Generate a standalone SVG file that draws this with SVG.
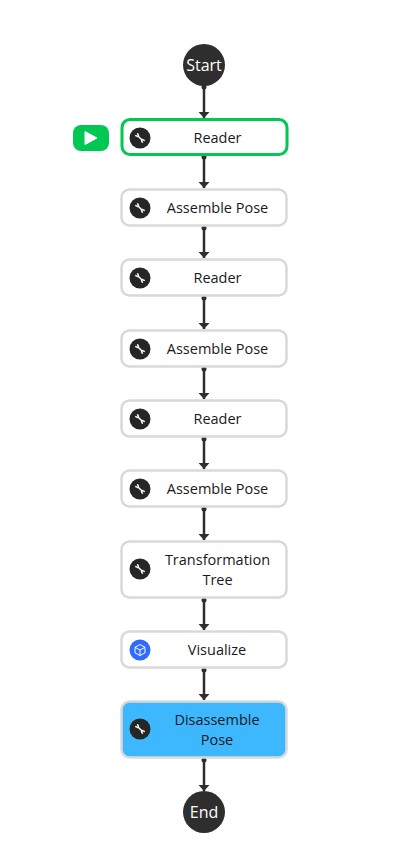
<svg xmlns="http://www.w3.org/2000/svg" width="401" height="865" viewBox="0 0 401 865">
<style>
.node{fill:#fff;stroke:#d9d9d9;stroke-width:2.5}
.lbl{font-family:"Open Sans","Noto Sans",sans-serif;font-size:14.500px;fill:#1a1a1a;text-anchor:middle}
.term{fill:#2e2e2e}
.tlbl{font-family:"Open Sans","Noto Sans",sans-serif;font-size:16px;fill:#fff;text-anchor:middle}
.ic{fill:#262626}
.wr{fill:none;stroke:#fff;stroke-width:1.500;stroke-linecap:butt;stroke-linejoin:round}
.edge{stroke:#2e2e2e;stroke-width:2.500;fill:none;marker-start:url(#dot);marker-end:url(#arr)}
</style>
<defs>
<marker id="arr" markerUnits="userSpaceOnUse" markerWidth="8" markerHeight="12" refX="6" refY="6" orient="auto"><path d="M0 0.500L6 6L0 11.500Z" fill="#2e2e2e"/></marker>
<marker id="dot" markerUnits="userSpaceOnUse" markerWidth="6" markerHeight="6" refX="3" refY="3" orient="auto"><circle cx="3" cy="3" r="2.500" fill="#2e2e2e"/></marker>
<g id="wrench"><circle class="ic" r="10.500"/><path class="wr" d="M-1.800 -1.800L1.800 1.800M-4.800 -2.600L-2.600 -1.600L-1.800 -1.800L-1.600 -2.600L-2.600 -4.800M4.800 2.600L2.600 1.600L1.800 1.800L1.600 2.600L2.600 4.800"/></g>
</defs>
<g id="connectors">
<path class="edge" d="M204 87V118"/>
<path class="edge" d="M204 157V188"/>
<path class="edge" d="M204 228V258"/>
<path class="edge" d="M204 298V329"/>
<path class="edge" d="M204 369V399"/>
<path class="edge" d="M204 439V469"/>
<path class="edge" d="M204 509V540"/>
<path class="edge" d="M204 600V630"/>
<path class="edge" d="M204 670V700"/>
<path class="edge" d="M204 760V791"/>
</g>
<g id="start"><circle class="term" cx="204" cy="65" r="21"/><text class="tlbl" x="204" y="71">Start</text></g>
<g id="run"><rect x="73" y="125" width="36" height="26" rx="8" fill="#00c853"/><path d="M85 131.500L97 138L85 144.500Z" fill="#fff" stroke="#fff" stroke-linejoin="round"/></g>
<g id="n1"><rect x="122" y="119.500" width="165" height="35" rx="8" fill="#fff" stroke="#00c853" stroke-width="3"/><use href="#wrench" x="140" y="138"/><text class="lbl" x="217.500" y="143">Reader</text></g>
<g id="n2"><rect class="node" x="121.500" y="189.500" width="165" height="36" rx="8"/><use href="#wrench" x="140" y="208"/><text class="lbl" x="217.500" y="213">Assemble Pose</text></g>
<g id="n3"><rect class="node" x="121.500" y="259.500" width="165" height="36" rx="8"/><use href="#wrench" x="140" y="278"/><text class="lbl" x="217.500" y="283">Reader</text></g>
<g id="n4"><rect class="node" x="121.500" y="330.500" width="165" height="36" rx="8"/><use href="#wrench" x="140" y="349"/><text class="lbl" x="217.500" y="354">Assemble Pose</text></g>
<g id="n5"><rect class="node" x="121.500" y="400.500" width="165" height="36" rx="8"/><use href="#wrench" x="140" y="419"/><text class="lbl" x="217.500" y="424">Reader</text></g>
<g id="n6"><rect class="node" x="121.500" y="470.500" width="165" height="36" rx="8"/><use href="#wrench" x="140" y="489"/><text class="lbl" x="217.500" y="494">Assemble Pose</text></g>
<g id="n7"><rect class="node" x="121.500" y="541.500" width="165" height="56" rx="8"/><use href="#wrench" x="140" y="569"/><text class="lbl" x="217.500" y="565">Transformation</text><text class="lbl" x="217.500" y="585">Tree</text></g>
<g id="n8"><rect class="node" x="121.500" y="631.500" width="165" height="36" rx="8"/><circle cx="140" cy="650" r="10.500" fill="#2f6bff"/><path d="M140 644.500L145 647.300V652.800L140 655.500L135 652.800V647.300ZM135 647.300L140 650L145 647.300M140 650V655.500" fill="none" stroke="#fff" stroke-width="1"/><text class="lbl" x="217" y="655">Visualize</text></g>
<g id="n9"><rect x="121.500" y="701.500" width="165" height="56" rx="8" fill="#3db8ff" stroke="#d9d9d9" stroke-width="2.500"/><use href="#wrench" x="140" y="729"/><text class="lbl" x="217" y="725">Disassemble</text><text class="lbl" x="217" y="745">Pose</text></g>
<g id="end"><circle class="term" cx="204" cy="812" r="21"/><text class="tlbl" x="204" y="818">End</text></g>
</svg>
